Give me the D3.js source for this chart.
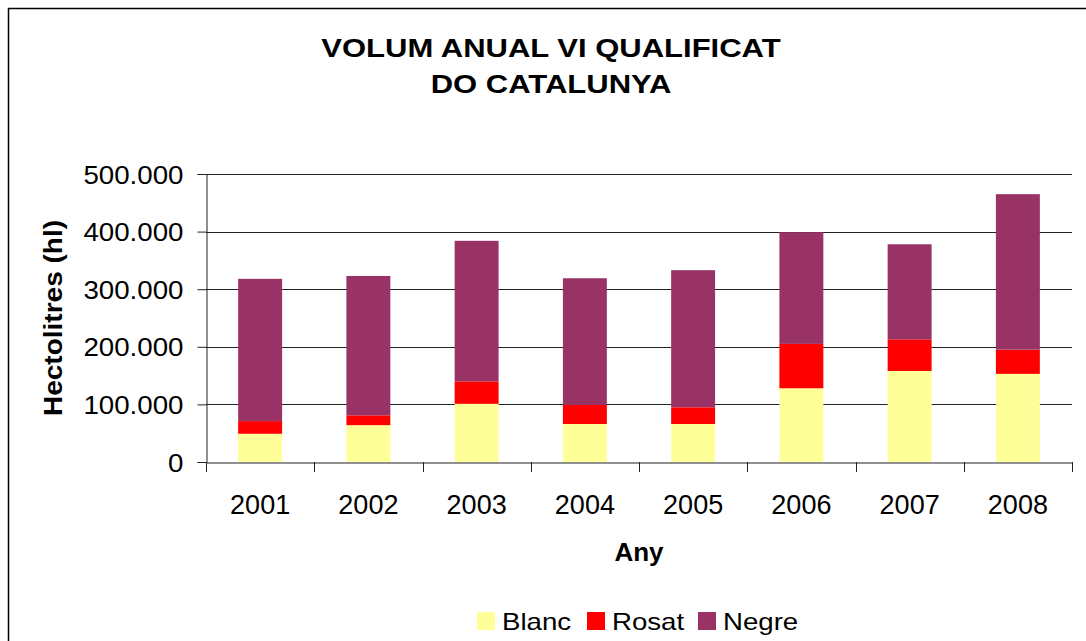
<!DOCTYPE html>
<html>
<head>
<meta charset="utf-8">
<script src="https://cdn.jsdelivr.net/npm/d3@7"></script>
<style>
  html, body { margin: 0; padding: 0; background: #fff; }
  svg { display: block; font-family: "Liberation Sans", Arial, sans-serif; }
</style>
</head>
<body>
<svg id="chart" width="1086" height="641"></svg>
<script>
const years = ["2001", "2002", "2003", "2004", "2005", "2006", "2007", "2008"];
const blanc = [49000, 64000, 101000, 66000, 66000, 128000, 158000, 153000];
const rosat = [22000, 17000, 39000, 33000, 29000, 77000, 55000, 42000];
const negre = [247000, 242000, 244000, 220000, 238000, 194000, 165000, 270000];
const seriesNames = ["Blanc", "Rosat", "Negre"];
const seriesColors = ["#FFFF99", "#FF0000", "#993366"];
const yTicks = [0, 100000, 200000, 300000, 400000, 500000];
const titleLines = ["VOLUM ANUAL VI QUALIFICAT", "DO CATALUNYA"];
const yTitle = "Hectolitres (hl)";
const xTitle = "Any";

const svg = d3.select("#chart");
const m = { left: 206, right: 1072, top: 174, bottom: 462 };

function stretch(sel, k) {
  sel.each(function () {
    const w = this.getComputedTextLength();
    d3.select(this).attr("textLength", w * k).attr("lengthAdjust", "spacingAndGlyphs");
  });
}

// outer frame
svg.append("rect").attr("x", 8.5).attr("y", 8.5).attr("width", 1100).attr("height", 700)
  .attr("fill", "none").attr("stroke", "#000").attr("stroke-width", 1.5);

const x = d3.scaleBand().domain(years).range([m.left, m.right]).paddingInner(0.594).paddingOuter(0.297);
const y = d3.scaleLinear().domain([0, 500000]).range([m.bottom, m.top]);

// gridlines
svg.append("g").selectAll("line").data(yTicks.slice(1)).join("line")
  .attr("x1", m.left).attr("x2", m.right)
  .attr("y1", d => Math.round(y(d)) + 0.5).attr("y2", d => Math.round(y(d)) + 0.5)
  .attr("stroke", "#222").attr("stroke-width", 1);

// stacked bars
const rows = years.map((yr, i) => ({ year: yr, Blanc: blanc[i], Rosat: rosat[i], Negre: negre[i] }));
const stack = d3.stack().keys(seriesNames)(rows);
svg.append("g").selectAll("g").data(stack).join("g")
  .attr("fill", (d, i) => seriesColors[i])
  .selectAll("rect").data(d => d).join("rect")
  .attr("x", d => x(d.data.year))
  .attr("width", x.bandwidth())
  .attr("y", d => y(d[1]))
  .attr("height", d => y(d[0]) - y(d[1]));

// y axis
const fmt = d => d === 0 ? "0" : d3.format(",")(d).replace(/,/g, ".");
const yAxis = svg.append("g").attr("transform", `translate(${m.left + 0.5},0)`)
  .call(d3.axisLeft(y).tickValues(yTicks).tickSize(9).tickPadding(14).tickFormat(fmt));
yAxis.select(".domain").attr("stroke", "#222");
yAxis.selectAll(".tick line").attr("stroke", "#222");
yAxis.selectAll("text").attr("font-size", 26).attr("fill", "#000")
  .attr("font-family", "'Liberation Sans', Arial, sans-serif")
  .attr("dy", "0.35em");
stretch(yAxis.selectAll("text"), 1.065);

// x axis
const xAxis = svg.append("g").attr("transform", `translate(0,${m.bottom + 0.5})`)
  .call(d3.axisBottom(x).tickSize(0).tickPadding(0));
xAxis.select(".domain").attr("stroke", "#222");
xAxis.selectAll("text").attr("font-size", 27).attr("fill", "#000")
  .attr("font-family", "'Liberation Sans', Arial, sans-serif")
  .attr("dy", 0).attr("y", 51);
// category boundary ticks
const bounds = years.map(d => x(d) - x.step() * x.paddingInner() / 2).concat([m.right]);
bounds[0] = m.left;
svg.append("g").selectAll("line").data(bounds).join("line")
  .attr("x1", d => Math.round(d) + 0.5).attr("x2", d => Math.round(d) + 0.5)
  .attr("y1", m.bottom).attr("y2", m.bottom + 10)
  .attr("stroke", "#222");

// titles
const title = svg.append("g").selectAll("text").data(titleLines).join("text")
  .attr("x", 551).attr("y", (d, i) => 57 + i * 36)
  .attr("text-anchor", "middle").attr("font-weight", "bold").attr("font-size", 26.5)
  .text(d => d);
stretch(title, 1.17);

const yt = svg.append("text")
  .attr("transform", `translate(62,${(m.top + m.bottom) / 2}) rotate(-90)`)
  .attr("text-anchor", "middle").attr("font-weight", "bold").attr("font-size", 26)
  .text(yTitle);
stretch(yt, 1.077);

svg.append("text").attr("x", (m.left + m.right) / 2).attr("y", 561)
  .attr("text-anchor", "middle").attr("font-weight", "bold").attr("font-size", 26)
  .text(xTitle);

// legend
const legendX = [477, 587, 698];
const lg = svg.append("g").selectAll("g").data(seriesNames).join("g")
  .attr("transform", (d, i) => `translate(${legendX[i]},612)`);
lg.append("rect").attr("width", 18).attr("height", 18).attr("fill", (d, i) => seriesColors[i]);
const lt = lg.append("text").attr("x", 25).attr("y", 18).attr("font-size", 24).text(d => d);
stretch(lt, 1.15);
</script>
</body>
</html>
